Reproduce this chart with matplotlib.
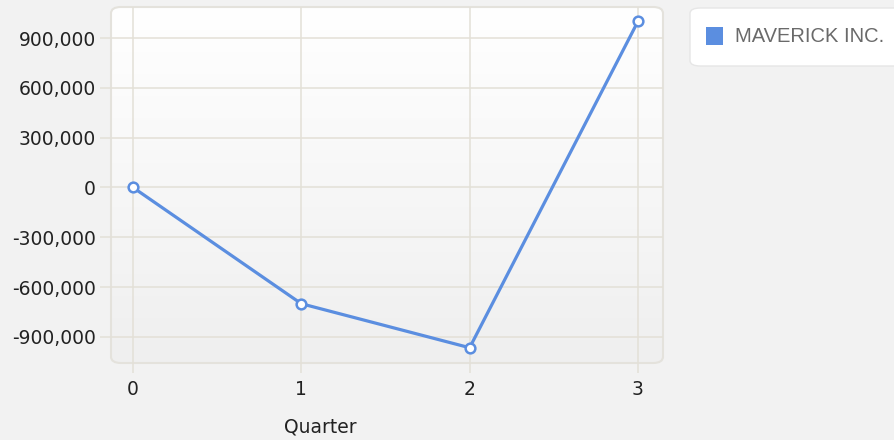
import numpy as np
import matplotlib
matplotlib.use("Agg")
import matplotlib.pyplot as plt
from matplotlib.patches import FancyBboxPatch, Rectangle
from matplotlib.ticker import FuncFormatter

quarters = [0, 1, 2, 3]
values = [0, -700000, -965000, 1000000]
series_name = "MAVERICK INC."
x_label = "Quarter"
y_ticks = [-900000, -600000, -300000, 0, 300000, 600000, 900000]

W, H = 894, 440
fig = plt.figure(figsize=(W / 100, H / 100), dpi=100)
fig.patch.set_facecolor("#f2f2f2")

L, R, T, B = 111, 663, 7, 363
ax = fig.add_axes([L / W, 1 - B / H, (R - L) / W, (B - T) / H])
ax.set_facecolor("none")
for s in ax.spines.values():
    s.set_visible(False)

# rounded plot background with gradient
frame = FancyBboxPatch((0, 0), 1, 1, boxstyle="round,pad=0,rounding_size=0.018",
                       transform=ax.transAxes, facecolor="none",
                       edgecolor="#e4e2dc", linewidth=1.5, zorder=0.5, clip_on=False)
ax.add_patch(frame)
grad = np.linspace(1.0, 0.0, 256).reshape(-1, 1)
cm = matplotlib.colors.LinearSegmentedColormap.from_list("g", ["#efefef", "#ffffff"])
im = ax.imshow(grad, extent=[0, 1, 0, 1], transform=ax.transAxes, aspect="auto",
               cmap=cm, zorder=0, origin="upper")
im.set_clip_path(frame)

line_color = "#5b8ee0"
ax.plot(quarters, values, color=line_color, linewidth=2.3, marker="o",
        markersize=7, markerfacecolor="white", markeredgecolor=line_color,
        markeredgewidth=1.8, zorder=3, clip_on=False)

ax.set_xlim(-0.131, 3.149)
ax.set_ylim(-1057000, 1087000)
ax.set_xticks(quarters)
ax.set_yticks(y_ticks)
ax.yaxis.set_major_formatter(FuncFormatter(lambda v, p: f"{int(v):,}"))
ax.grid(True, color="#e3e0d7", linewidth=1.1, zorder=1)
ax.set_axisbelow(True)
font = "DejaVu Sans"
ax.tick_params(axis="x", length=7, width=1.1, color="#e3e0d7", pad=5,
               labelsize=13.5, labelcolor="#222222")
ax.tick_params(axis="y", length=8, width=1.1, color="#e3e0d7", pad=3,
               labelsize=13.5, labelcolor="#222222")
for lab in ax.get_xticklabels() + ax.get_yticklabels():
    lab.set_family(font)

fig.text(320 / W, 1 - 427 / H, x_label, ha="center", va="center",
         fontsize=13.5, color="#222222", family=font)

# legend box
lb = FancyBboxPatch((690 / W, 1 - 66 / H), 230 / W, 58 / H,
                    boxstyle="round,pad=0,rounding_size=0.012",
                    transform=fig.transFigure, facecolor="white",
                    edgecolor="#e6e6e6", linewidth=1.0)
fig.add_artist(lb)
fig.add_artist(Rectangle((706 / W, 1 - 45 / H), 17 / W, 18 / H,
                         transform=fig.transFigure, facecolor=line_color,
                         edgecolor="none"))
fig.text(735 / W, 1 - 36.5 / H, series_name, ha="left", va="center",
         fontsize=14.5, color="#6a6a6a", family="Liberation Sans")

fig.savefig("out.png", dpi=100, facecolor=fig.get_facecolor())
